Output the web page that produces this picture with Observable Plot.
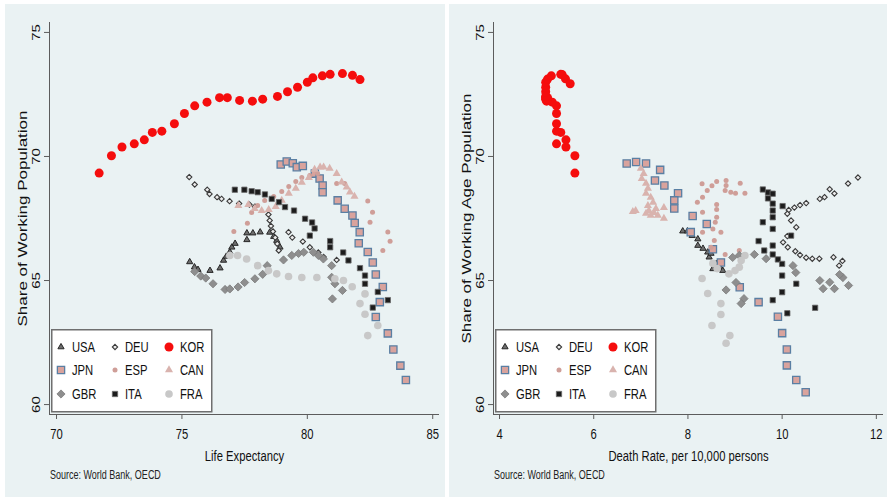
<!DOCTYPE html>
<html>
<head>
<meta charset="utf-8">
<script src="https://cdn.jsdelivr.net/npm/d3@7"></script>
<script src="https://cdn.jsdelivr.net/npm/@observablehq/plot@0.6"></script>
<style>
  body { margin: 0; background: #ffffff; }
  #wrap { position: relative; width: 890px; height: 501px; overflow: hidden; font-family: "Liberation Sans", Arial, sans-serif; }
  .panel { position: absolute; top: 4px; height: 493px; background: #eaf2f3; }
  .panel svg.plot { position: absolute; left: 0; top: 0; }
  .legend { position: absolute; top: 325px; }
  .caption { position: absolute; left: 45px; top: 464px; font-size: 12px; color: #222; white-space: nowrap;
             transform: scaleX(0.75); transform-origin: 0 50%; }
</style>
</head>
<body>
<div id="wrap"></div>
<script>
// ---------- data ----------
const yTicks = [60, 65, 70, 75];
const lifeTicks = [70, 75, 80, 85];
const deathTicks = [4, 6, 8, 10, 12];
const legendOrder = ["USA", "DEU", "KOR", "JPN", "ESP", "CAN", "GBR", "ITA", "FRA"];

// Left panel: [life expectancy, share of working population]
const usaLE = [[75.31,65.75],[75.50,65.54],[75.64,65.44],[76.12,65.40],[76.52,65.50],[76.66,65.81],[76.77,65.97],[76.91,66.15],[76.99,66.34],[77.12,66.49],[77.59,66.64],[77.59,66.91],[77.83,66.91],[78.12,66.95],[78.50,66.94],[78.66,66.77],[78.78,66.61],[78.91,66.34]];
const jpnLE = [[78.94,69.68],[79.18,69.80],[79.42,69.73],[79.58,69.57],[79.82,69.62],[80.30,69.31],[80.49,69.11],[80.61,68.83],[80.61,68.56],[81.21,68.23],[81.49,67.89],[81.80,67.62],[81.89,67.32],[82.09,66.95],[82.05,66.50],[82.41,66.15],[82.61,65.73],[82.73,65.24],[83.01,64.74],[82.89,64.13],[82.73,63.53],[83.21,62.87],[83.43,62.22],[83.71,61.57],[83.93,60.99]];
const gbrLE = [[75.51,65.36],[75.75,65.18],[75.95,65.10],[76.24,64.87],[76.72,64.64],[76.91,64.66],[77.24,64.74],[77.50,64.92],[77.91,65.07],[78.22,65.25],[78.40,65.60],[79.05,65.83],[79.38,66.01],[79.65,66.09],[79.86,66.14],[80.24,66.14],[80.44,66.01],[80.64,65.87],[80.97,65.60],[80.97,65.13],[81.10,64.87],[81.40,64.60],[81.00,64.26]];
const deuLE = [[75.29,69.17],[75.51,68.87],[76.01,68.66],[76.10,68.49],[76.40,68.36],[76.58,68.29],[76.90,68.20],[77.28,68.10],[77.69,68.06],[77.91,67.98],[78.45,67.66],[78.50,67.42],[78.55,67.20],[78.63,66.98],[78.72,66.73],[78.80,66.48],[78.86,66.21],[79.25,66.95],[79.40,66.73],[79.82,66.57],[80.10,66.34],[80.44,66.13],[80.65,65.95],[81.17,65.83]];
const espLE = [[77.07,66.98],[77.61,67.31],[77.78,67.74],[78.02,68.02],[78.30,68.23],[78.66,68.39],[78.98,68.59],[79.26,68.79],[79.54,68.99],[79.78,69.15],[80.10,69.23],[80.41,69.31],[81.17,68.91],[81.49,68.91],[82.41,68.21],[82.60,67.75],[82.50,67.35],[83.21,66.96],[83.30,66.58],[83.01,66.21]];
const itaLE = [[77.11,68.66],[77.49,68.66],[77.78,68.60],[78.02,68.56],[78.31,68.47],[78.58,68.29],[78.87,68.16],[79.11,67.96],[79.47,67.82],[79.91,67.49],[80.19,67.34],[80.29,67.10],[80.10,66.81],[80.91,66.59],[80.91,66.34],[81.43,66.13],[81.64,65.81],[82.10,65.50],[82.30,65.20],[82.30,64.87],[82.81,64.54],[83.21,64.21],[82.61,63.91]];
const korLE = [[71.70,69.33],[72.19,70.03],[72.61,70.38],[73.10,70.51],[73.50,70.67],[73.82,70.97],[74.20,71.02],[74.70,71.32],[75.10,71.73],[75.51,72.04],[76.00,72.19],[76.50,72.37],[76.81,72.37],[77.30,72.26],[77.81,72.23],[78.22,72.31],[78.81,72.42],[79.21,72.61],[79.61,72.79],[80.00,72.99],[80.22,73.17],[80.60,73.25],[80.91,73.31],[81.40,73.34],[81.80,73.27],[82.10,73.10]];
const canLE = [[77.25,68.02],[77.65,68.06],[77.90,67.90],[78.18,67.82],[78.46,67.86],[78.74,67.98],[78.98,68.23],[79.26,68.51],[79.54,68.71],[79.78,68.95],[80.06,69.15],[80.29,69.48],[80.51,69.57],[80.65,69.57],[80.89,69.52],[81.17,69.31],[81.37,68.96],[81.57,68.76],[81.70,68.56],[81.88,68.39]];
const fraLE = [[76.91,66.01],[77.22,66.01],[77.58,65.87],[78.02,65.60],[78.45,65.40],[78.78,65.27],[79.25,65.16],[79.78,65.12],[80.38,65.12],[81.10,65.07],[81.44,65.00],[81.79,64.75],[82.30,64.46],[82.10,64.07],[82.30,63.64],[82.81,63.19],[82.41,62.78]];

// Right panel: [death rate, share of working age population]
const usaDR = [[7.89,66.99],[7.99,66.99],[8.09,66.81],[8.21,66.67],[8.21,66.41],[8.32,66.29],[8.42,66.14],[8.45,65.94],[8.49,66.09],[8.60,65.67],[8.68,65.54],[8.53,65.47],[8.74,65.40]];
const jpnDR = [[6.70,69.72],[6.90,69.78],[7.11,69.72],[7.41,69.46],[7.30,69.03],[7.50,68.83],[7.79,68.52],[7.71,68.23],[7.71,67.90],[8.10,67.60],[8.40,67.28],[8.06,66.95],[8.53,66.26],[8.70,65.73],[9.10,64.73],[9.50,64.13],[9.91,63.54],[10.00,62.88],[10.10,62.22],[10.10,61.58],[10.30,60.99],[10.50,60.50]];
const gbrDR = [[11.41,64.80],[11.29,65.12],[11.22,65.24],[11.11,64.67],[11.01,64.93],[10.87,64.67],[10.80,65.00],[10.29,65.32],[10.23,65.60],[9.66,65.88],[9.41,66.05],[9.09,66.01],[8.95,65.93],[9.02,64.92],[8.81,64.62],[9.19,64.27],[9.13,64.07]];
const deuDR = [[11.61,69.15],[11.40,68.91],[11.11,68.51],[11.01,68.68],[10.90,68.36],[10.80,68.29],[10.51,68.12],[10.38,68.04],[10.26,67.94],[10.14,67.84],[10.11,67.69],[10.19,67.42],[10.30,67.15],[10.11,66.79],[10.02,66.54],[10.12,66.34],[10.28,66.18],[10.38,66.03],[10.51,65.92],[10.64,65.88],[10.79,65.88],[11.09,65.94],[11.28,65.79],[11.21,65.60]];
const espDR = [[8.20,68.16],[8.31,68.36],[8.30,68.90],[8.41,68.63],[8.51,68.82],[8.61,68.99],[8.81,69.03],[8.81,68.83],[8.79,68.63],[8.91,68.56],[9.01,68.52],[9.11,68.92],[9.21,68.52],[8.61,68.06],[8.61,67.86],[8.61,67.55],[8.58,67.35],[8.31,67.75],[8.31,66.95],[8.70,66.95],[8.53,67.08],[8.56,66.61],[8.49,66.34],[8.79,66.05],[9.09,66.21]];
const itaDR = [[9.59,68.67],[9.70,68.55],[9.80,68.50],[9.70,68.31],[9.80,68.10],[9.80,67.82],[10.01,68.00],[9.80,67.55],[9.59,67.35],[9.80,67.08],[10.19,66.81],[9.50,66.59],[9.80,66.41],[9.62,66.21],[9.80,66.05],[9.91,65.85],[10.00,65.67],[10.00,65.20],[10.30,64.87],[10.00,64.53],[9.80,64.21],[10.11,63.68],[10.70,63.90]];
const korDR = [[5.60,69.33],[5.60,70.03],[5.41,70.38],[5.21,70.51],[5.41,70.67],[5.30,70.97],[5.21,71.02],[5.21,71.32],[5.21,71.73],[5.21,72.04],[5.12,72.19],[5.02,72.37],[4.98,72.37],[5.00,72.26],[5.00,72.23],[4.98,72.31],[4.98,72.42],[4.98,72.61],[4.98,72.79],[4.98,72.99],[5.02,73.12],[5.10,73.25],[5.30,73.31],[5.33,73.30],[5.40,73.13],[5.50,72.93]];
const canDR = [[7.00,69.52],[7.06,69.31],[7.02,69.11],[7.11,68.91],[7.15,68.71],[7.11,68.51],[7.21,68.35],[7.26,68.15],[7.15,68.02],[7.17,67.82],[7.28,67.74],[7.32,67.90],[7.49,67.94],[7.49,67.50],[6.83,67.78],[6.89,67.82],[7.11,67.70],[7.21,67.62],[7.36,67.62]];
const fraDR = [[9.21,66.01],[9.13,65.81],[9.09,65.54],[9.00,65.40],[8.87,65.27],[8.53,65.69],[8.62,65.48],[8.30,65.08],[8.42,64.48],[8.70,64.07],[8.70,63.63],[8.51,63.19],[8.89,62.78],[8.81,62.47]];

// ---------- styles ----------
const style = {
  USA: {symbol: "triangle", r: 2.3, fill: "#6e6e6e", stroke: "#262626", strokeWidth: 1},
  JPN: {symbol: "square",   r: 4.1, fill: "#d9a39d", stroke: "#5a7fa3", strokeWidth: 1.3},
  GBR: {symbol: "diamond2", r: 3.7, fill: "#8e8e8e", stroke: "#7b7b7b", strokeWidth: 0.8},
  DEU: {symbol: "diamond2", r: 2.4, fill: "#ececec", stroke: "#3a3a3a", strokeWidth: 1.1},
  ESP: {symbol: "circle",   r: 2.5, fill: "#cf9e98", stroke: "none"},
  ITA: {symbol: "square",   r: 3.0, fill: "#1c1c1c", stroke: "#6a6a6a", strokeWidth: 0.8},
  KOR: {symbol: "circle",   r: 4.5, fill: "#f50d0d", stroke: "none"},
  CAN: {symbol: "triangle", r: 3.0, fill: "#d9b3ae", stroke: "none"},
  FRA: {symbol: "circle",   r: 3.8, fill: "#c8c8c8", stroke: "none"}
};
const d3Sym = {triangle: d3.symbolTriangle, square: d3.symbolSquare, diamond2: d3.symbolDiamond2, circle: d3.symbolCircle};

const leftData = {USA: usaLE, DEU: deuLE, KOR: korLE, JPN: jpnLE, ESP: espLE, CAN: canLE, GBR: gbrLE, ITA: itaLE, FRA: fraLE};
const rightData = {USA: usaDR, DEU: deuDR, KOR: korDR, JPN: jpnDR, ESP: espDR, CAN: canDR, GBR: gbrDR, ITA: itaDR, FRA: fraDR};

const SQ = 0.75; // horizontal squeeze of lettering, as in the reference
function squeeze(root) {
  d3.select(root).selectAll("text").each(function() {
    const t = this.getAttribute("transform");
    if (t && t.includes("rotate")) {
      this.setAttribute("transform", t + ` scale(1,${SQ})`);
    } else if (t) {
      this.setAttribute("transform", t + ` scale(${SQ},1)`);
    } else {
      const x = +(this.getAttribute("x") || 0), y = +(this.getAttribute("y") || 0);
      this.removeAttribute("x"); this.removeAttribute("y");
      this.setAttribute("transform", `translate(${x},${y}) scale(${SQ},1)`);
    }
  });
}

const wrap = document.getElementById("wrap");
const yDomain = [59.6, 75.4];

function makePanel({left, width, xDomain, xTicks, xLabel, yLabel, data}) {
  const H = 462;
  const div = document.createElement("div");
  div.className = "panel";
  div.style.left = left + "px";
  div.style.width = width + "px";
  wrap.appendChild(div);

  const marks = [
    Plot.ruleX([xDomain[0]], {stroke: "#5c5c5c", strokeWidth: 1}),
    Plot.ruleY([yDomain[0]], {stroke: "#5c5c5c", strokeWidth: 1}),
    Plot.axisX({ticks: xTicks, tickSize: 5, tickPadding: 9, fontSize: 15, stroke: "#5c5c5c", fill: "#111", label: null}),
    Plot.axisY({ticks: yTicks, tickSize: 5, tickFormat: () => "", stroke: "#5c5c5c", label: null}),
    Plot.text(yTicks, {y: d => d, frameAnchor: "left", textAnchor: "middle", lineAnchor: "middle", dx: -13, rotate: -90,
      text: d => String(d), fontSize: 15, fill: "#111"}),
    Plot.text([yLabel], {frameAnchor: "left", textAnchor: "middle", lineAnchor: "middle", dx: -27, rotate: -90, fontSize: 17, fill: "#111"}),
    Plot.text([xLabel], {frameAnchor: "bottom", textAnchor: "middle", lineAnchor: "middle", dy: 42, fontSize: 15, fill: "#111"}),
    ...legendOrder.map(c => Plot.dot(data[c], {x: d => d[0], y: d => d[1], ...style[c]}))
  ];
  const svg = Plot.plot({
    width, height: H,
    marginLeft: 44, marginRight: width - 434, marginTop: 18, marginBottom: H - 410,
    x: {domain: xDomain},
    y: {domain: yDomain},
    style: {background: "transparent", fontFamily: '"Liberation Sans", Arial, sans-serif', color: "#111", overflow: "visible"},
    marks
  });
  svg.classList.add("plot");
  div.appendChild(svg);
  squeeze(svg);

  // legend (3 columns, filled row-wise)
  const lw = 160, lh = 82;
  const lg = d3.select(div).append("svg").attr("class", "legend")
    .style("left", "46px").attr("width", lw + 2).attr("height", lh + 2);
  lg.append("rect").attr("x", 0.75).attr("y", 0.75).attr("width", lw).attr("height", lh)
    .attr("fill", "#ffffff").attr("stroke", "#6f6f6f").attr("stroke-width", 1.5);
  const colSym = [10, 64, 118], colTxt = [21, 74, 129], rowY = [18, 41, 65];
  legendOrder.forEach((c, i) => {
    const col = i % 3, row = Math.floor(i / 3), s = style[c];
    lg.append("path")
      .attr("d", d3.symbol(d3Sym[s.symbol], Math.PI * s.r * s.r)())
      .attr("transform", `translate(${colSym[col]},${rowY[row]})`)
      .attr("fill", s.fill).attr("stroke", s.stroke).attr("stroke-width", s.strokeWidth || 0);
    lg.append("text").text(c)
      .attr("transform", `translate(${colTxt[col]},${rowY[row]}) scale(${SQ},1)`)
      .attr("dy", "0.36em").attr("font-size", 15).attr("fill", "#111")
      .attr("font-family", '"Liberation Sans", Arial, sans-serif');
  });

  const cap = document.createElement("div");
  cap.className = "caption";
  cap.textContent = "Source: World Bank, OECD";
  div.appendChild(cap);
}

makePanel({left: 5, width: 440, xDomain: [69.72, 85.27], xTicks: lifeTicks,
  xLabel: "Life Expectancy", yLabel: "Share of Working Population", data: leftData});
makePanel({left: 449, width: 438, xDomain: [3.872, 12.152], xTicks: deathTicks,
  xLabel: "Death Rate, per 10,000 persons", yLabel: "Share of Working Age Population", data: rightData});
</script>
</body>
</html>
